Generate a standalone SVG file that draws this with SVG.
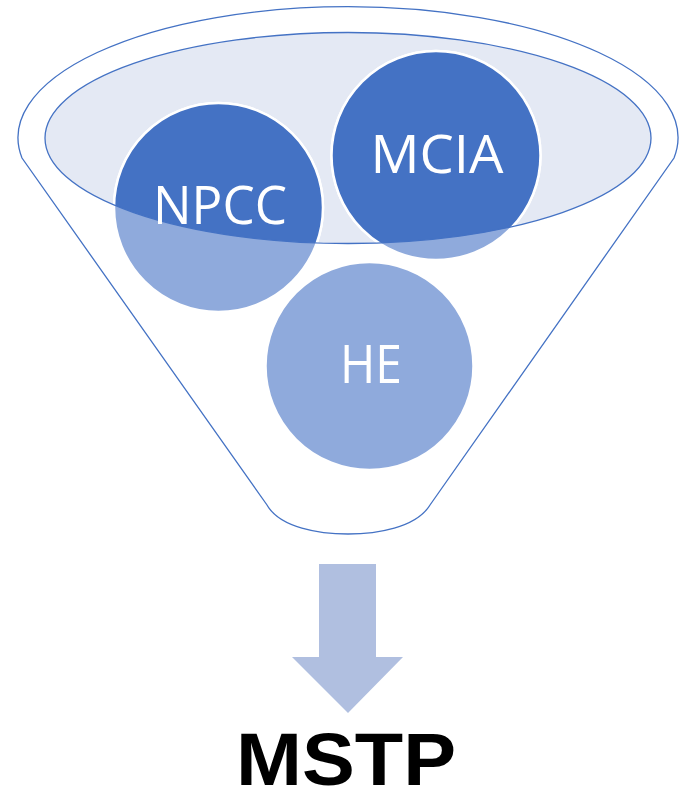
<svg xmlns="http://www.w3.org/2000/svg" width="681" height="801" viewBox="0 0 681 801">
  <style>
    .outline { fill: none; stroke: #4472C4; stroke-width: 1.3; }
    .circ-light { fill: #8FAADC; stroke: #FFFFFF; stroke-width: 2.5; }
    .circ-dark { fill: #4472C4; stroke: #FFFFFF; stroke-width: 2.5; }
    .lbl { font-family: "Open Sans", "Liberation Sans", sans-serif; font-size: 53px; fill: #FFFFFF; text-anchor: middle; }
    .title { font-family: "Liberation Sans", Arial, sans-serif; font-weight: bold; font-size: 74px; fill: #000000; text-anchor: middle; }
  </style>
  <defs>
    <clipPath id="topClip">
      <ellipse cx="348" cy="138" rx="303" ry="105.5"/>
    </clipPath>
  </defs>
  <rect x="0" y="0" width="681" height="801" fill="#FFFFFF"/>

  <g id="funnel">
    <path class="outline" fill="#FFFFFF" d="M 22,158 A 330 131 0 1 1 674,158 L 430,505 C 416,528 376,534 348,534 C 320,534 280,528 267,505 Z"/>
    <ellipse cx="348" cy="138" rx="303" ry="105.5" fill="#E4E9F4" stroke="none"/>
  </g>

  <g id="node-npcc">
    <circle class="circ-light" cx="218.5" cy="207.5" r="104.5"/>
    <circle class="circ-dark" cx="218.5" cy="207.5" r="104.5" clip-path="url(#topClip)"/>
  </g>
  <g id="node-mcia">
    <circle class="circ-light" cx="436" cy="155.5" r="104.5"/>
    <circle class="circ-dark" cx="436" cy="155.5" r="104.5" clip-path="url(#topClip)"/>
  </g>
  <g id="node-he">
    <circle class="circ-light" cx="369.5" cy="366" r="104"/>
  </g>

  <g id="funnel-rim">
    <ellipse class="outline" cx="348" cy="138" rx="303" ry="105.5"/>
  </g>

  <g id="labels">
    <text class="lbl" x="220" y="224" textLength="134" lengthAdjust="spacingAndGlyphs">NPCC</text>
    <text class="lbl" x="437" y="173" textLength="133" lengthAdjust="spacingAndGlyphs">MCIA</text>
    <text class="lbl" x="371" y="383" textLength="62" lengthAdjust="spacingAndGlyphs">HE</text>
  </g>

  <g id="connectors">
    <path d="M 319,564 L 376,564 L 376,657 L 403,657 L 348,713 L 292,657 L 319,657 Z" fill="#B0BFE0"/>
  </g>

  <g id="node-mstp">
    <text class="title" x="346" y="785" textLength="220" lengthAdjust="spacingAndGlyphs">MSTP</text>
  </g>
</svg>
